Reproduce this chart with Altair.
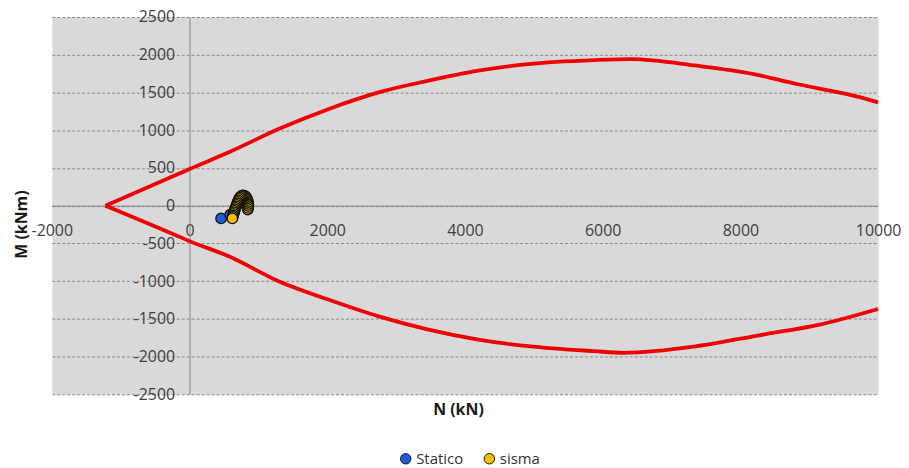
import altair as alt
import pandas as pd

# Interaction domain (M-N) - upper and lower branches
upper_N = [-1220, -149, 0, 578, 1301, 2024, 2747, 3470, 4193, 4916, 5885, 6404, 7369, 8193, 8815, 9537, 10000]
upper_M = [0, 425, 485, 710, 1018, 1282, 1501, 1656, 1788, 1876, 1929, 1942, 1854, 1744, 1612, 1480, 1369]
lower_N = [-1220, -149, 0, 578, 1301, 2024, 2747, 3470, 4193, 4916, 5875, 6309, 7369, 8333, 9148, 10000]
lower_M = [0, -411, -470, -675, -1005, -1247, -1467, -1642, -1774, -1862, -1928, -1950, -1862, -1708, -1576, -1369]

# Load points
statico_N = [458, 590]
statico_M = [-169, -120]
sisma_N = [622, 628, 634, 640, 646, 652, 660, 668, 676, 684, 692, 700, 710, 720,
           732, 745, 760, 776, 792, 808, 822, 834, 843, 850, 854, 855, 852, 846]
sisma_M = [-169, -150, -130, -110, -90, -70, -50, -30, -10, 10, 30, 50, 70, 90,
           108, 122, 132, 136, 134, 126, 112, 94, 72, 48, 22, -4, -30, -52]

x_ticks = [-2000, 0, 2000, 4000, 6000, 8000, 10000]
y_ticks = [-2500, -2000, -1500, -1000, -500, 0, 500, 1000, 1500, 2000, 2500]

dom = pd.DataFrame({
    "N": upper_N + lower_N,
    "M": upper_M + lower_M,
    "branch": ["up"] * len(upper_N) + ["low"] * len(lower_N),
})
pts = pd.DataFrame({
    "N": statico_N + sisma_N,
    "M": statico_M + sisma_M,
    "serie": ["Statico"] * len(statico_N) + ["sisma"] * len(sisma_N),
    "ord": list(range(len(statico_N))) + [100 - i for i in range(len(sisma_N))],
})

W, H = 830, 379
x0 = W * 2000 / 12000   # pixel of N=0
y0 = H / 2              # pixel of M=0

FONT = "Open Sans"

xs = alt.Scale(domain=[-2000, 10000], nice=False, zero=False)
ys = alt.Scale(domain=[-2500, 2500], nice=False, zero=False)

x_axis = alt.Axis(
    values=x_ticks, tickCount=len(x_ticks), title="N (kN)", offset=-(H - y0),
    grid=False, ticks=False,
    domainColor="#868686", domainWidth=1, labelPadding=17, labelFlush=False,
    labelOverlap=False, labelExpr="datum.value + ''",
    titleX=408, titleY=H - y0 + 15, titleBaseline="middle", titleAlign="center",
)
y_axis = alt.Axis(
    values=y_ticks, tickCount=len(y_ticks), title="M (kNm)", offset=-x0,
    grid=True, gridDash=[3, 2],
    gridColor="#8a8a8a", gridWidth=1, ticks=False, domainColor="#868686",
    domainWidth=1, labelPadding=15, labelOverlap=False, labelFlush=False,
    labelExpr="datum.value + ''",
    titleX=-30 - x0, titleY=208, titleAngle=270, titleAlign="center",
    titleBaseline="middle",
)

line = alt.Chart(dom).mark_line(color="#f00000", strokeWidth=3.8, interpolate="monotone").encode(
    x=alt.X("N:Q", scale=xs, axis=x_axis),
    y=alt.Y("M:Q", scale=ys, axis=y_axis),
    detail="branch:N",
)

points = alt.Chart(pts).mark_circle(size=110, opacity=1, stroke="#111111", strokeWidth=1.3).encode(
    x=alt.X("N:Q", scale=xs),
    y=alt.Y("M:Q", scale=ys),
    color=alt.Color(
        "serie:N",
        scale=alt.Scale(domain=["Statico", "sisma"], range=["#1f5bd6", "#f5c000"]),
        legend=alt.Legend(
            title=None, orient="none", legendX=348, legendY=436, direction="horizontal",
            symbolType="circle", symbolSize=110, symbolStrokeColor="#1a1a1a",
            symbolStrokeWidth=1, labelFontSize=15, labelFont=FONT, labelColor="#333333",
            columnPadding=18, labelOffset=3, padding=0,
        ),
    ),
    order=alt.Order("ord:Q"),
)

chart = alt.layer(line, points).properties(
    width=W, height=H,
    autosize=alt.AutoSizeParams(type="none"),
    padding={"left": 44, "top": 8, "right": 23, "bottom": 73},
).configure_view(
    fill="#d9d9d9", stroke="transparent"
).configure_axis(
    labelFont=FONT, labelFontSize=16, labelColor="#404040",
    titleFont=FONT, titleFontSize=16, titleFontWeight="bold", titleColor="#1a1a1a",
)

chart.save("out.html", embed_options={"renderer": "svg", "actions": False})
